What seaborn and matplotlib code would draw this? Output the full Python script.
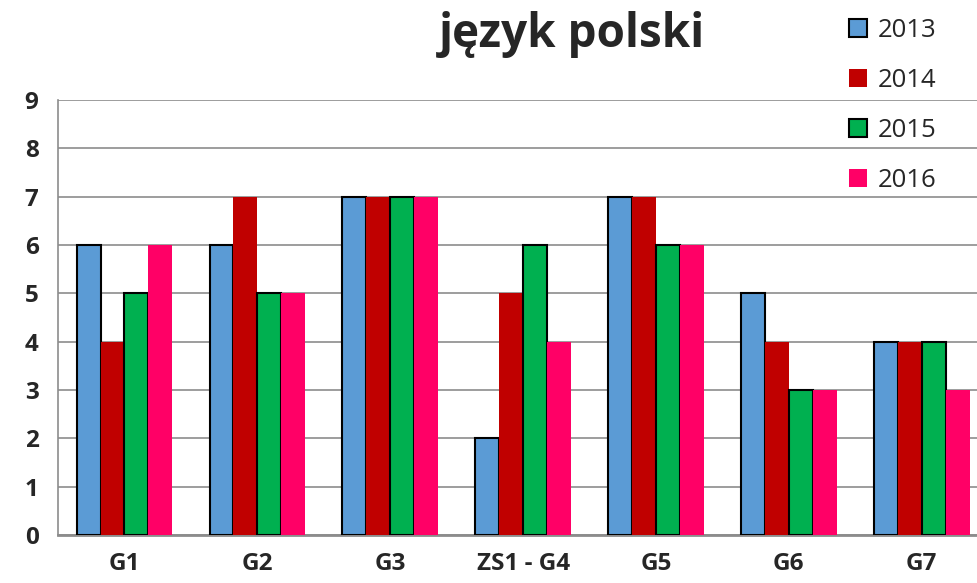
import matplotlib
matplotlib.use("Agg")
import matplotlib.pyplot as plt
import pandas as pd
import seaborn as sns

# values
groups = ["G1", "G2", "G3", "ZS1 - G4", "G5", "G6", "G7"]
years = ["2013", "2014", "2015", "2016"]
v2013 = [6, 6, 7, 2, 7, 5, 4]
v2014 = [4, 7, 7, 5, 7, 4, 4]
v2015 = [5, 5, 7, 6, 6, 3, 4]
v2016 = [6, 5, 7, 4, 6, 3, 3]
yticks = list(range(0, 10))

colors = ["#5B9BD5", "#C00000", "#00B050", "#FF0066"]
edges = ["black", "none", "black", "none"]

rows = []
for year, vals in zip(years, [v2013, v2014, v2015, v2016]):
    for g, v in zip(groups, vals):
        rows.append({"group": g, "year": year, "value": v})
df = pd.DataFrame(rows)

sns.set_style("white")
plt.rcParams["font.family"] = ["Open Sans", "DejaVu Sans"]

fig = plt.figure(figsize=(9.77, 5.83), dpi=100)
# plot area runs a little past the right edge, like the original
ax = fig.add_axes([0.0594, 0.0823, 0.952, 0.7462])

sns.barplot(data=df, x="group", y="value", hue="year", order=groups,
            hue_order=years, palette=colors, width=0.72, saturation=1,
            ax=ax, zorder=3)

# outline only the blue and green series, like the original
for cont, ec in zip(ax.containers, edges):
    for bar in cont:
        bar.set_edgecolor(ec)
        bar.set_linewidth(1.5 if ec != "none" else 0)

ax.set_ylim(0, 9)
ax.set_xlim(-0.5, 6.5)
ax.set_yticks(yticks)
ax.yaxis.grid(True, color="#8c8c8c", linewidth=1.2, zorder=0)
ax.set_axisbelow(True)
ax.set_xlabel("")
ax.set_ylabel("")
ax.tick_params(axis="both", length=0, labelsize=17.5)
ax.tick_params(axis="y", pad=14)
ax.tick_params(axis="x", pad=12)
for lbl in ax.get_xticklabels() + ax.get_yticklabels():
    lbl.set_fontweight("bold")

for side in ["top", "right"]:
    ax.spines[side].set_visible(False)
ax.spines["left"].set_color("#8c8c8c")
ax.spines["left"].set_linewidth(1.2)
ax.spines["bottom"].set_color("#8c8c8c")
ax.spines["bottom"].set_linewidth(2)

handles, labels = ax.get_legend_handles_labels()
ax.get_legend().remove()
for h, ec in zip(handles, edges):
    h.set_edgecolor(ec)
    h.set_linewidth(1.5 if ec != "none" else 0)
fig.legend(handles, labels, loc="upper left", bbox_to_anchor=(0.845, 1.008),
           frameon=False, fontsize=18.5, handlelength=0.7, handleheight=0.7,
           handletextpad=0.45, labelspacing=0.97)

fig.text(0.585, 0.94, "język polski", ha="center", va="center",
         fontsize=33, fontweight="bold")

fig.savefig("out.png", dpi=100)
